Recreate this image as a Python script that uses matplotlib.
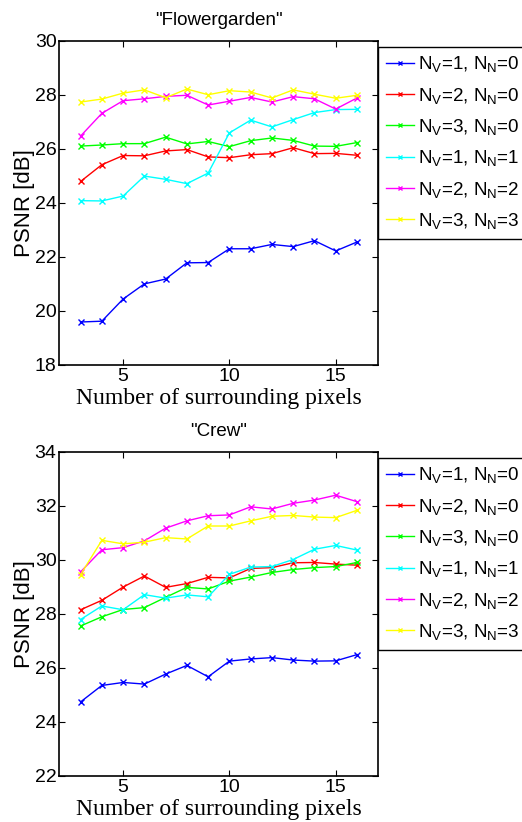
import matplotlib
matplotlib.use('Agg')
import matplotlib.pyplot as plt

plt.rcParams['font.family'] = 'Liberation Sans'
plt.rcParams['mathtext.fontset'] = 'custom'
plt.rcParams['mathtext.rm'] = 'Liberation Sans'
plt.rcParams['mathtext.it'] = 'Liberation Sans:italic'
plt.rcParams['mathtext.default'] = 'rm'

# surrounding pixels (x axis)
pixels = [3, 4, 5, 6, 7, 8, 9, 10, 11, 12, 13, 14, 15, 16]

labels = ['N$_V$=1, N$_N$=0', 'N$_V$=2, N$_N$=0', 'N$_V$=3, N$_N$=0',
          'N$_V$=1, N$_N$=1', 'N$_V$=2, N$_N$=2', 'N$_V$=3, N$_N$=3']
colors = ['#0000ff', '#ff0000', '#00ff00', '#00ffff', '#ff00ff', '#ffff00']

# "Flowergarden" PSNR [dB]
fg_v1n0 = [19.59, 19.62, 20.44, 21.00, 21.18, 21.78, 21.79, 22.30, 22.30, 22.46, 22.38, 22.60, 22.22, 22.55]
fg_v2n0 = [24.79, 25.41, 25.75, 25.74, 25.92, 25.97, 25.70, 25.67, 25.78, 25.82, 26.04, 25.82, 25.83, 25.76]
fg_v3n0 = [26.10, 26.14, 26.19, 26.19, 26.43, 26.18, 26.27, 26.08, 26.30, 26.40, 26.31, 26.10, 26.09, 26.23]
fg_v1n1 = [24.08, 24.07, 24.25, 24.99, 24.87, 24.71, 25.10, 26.59, 27.06, 26.81, 27.08, 27.34, 27.45, 27.46]
fg_v2n2 = [26.47, 27.31, 27.78, 27.85, 27.94, 27.98, 27.62, 27.76, 27.90, 27.73, 27.93, 27.85, 27.47, 27.88]
fg_v3n3 = [27.73, 27.84, 28.06, 28.18, 27.89, 28.21, 28.00, 28.15, 28.10, 27.88, 28.18, 28.02, 27.87, 27.98]

# "Crew" PSNR [dB]
cr_v1n0 = [24.74, 25.35, 25.46, 25.40, 25.77, 26.09, 25.67, 26.25, 26.33, 26.38, 26.29, 26.25, 26.26, 26.49]
cr_v2n0 = [28.15, 28.50, 28.99, 29.40, 28.98, 29.12, 29.35, 29.33, 29.68, 29.71, 29.89, 29.90, 29.84, 29.80]
cr_v3n0 = [27.55, 27.89, 28.16, 28.23, 28.61, 28.98, 28.92, 29.21, 29.36, 29.53, 29.64, 29.71, 29.75, 29.90]
cr_v1n1 = [27.79, 28.29, 28.15, 28.71, 28.58, 28.70, 28.63, 29.46, 29.73, 29.75, 30.01, 30.39, 30.53, 30.36]
cr_v2n2 = [29.55, 30.37, 30.45, 30.70, 31.17, 31.44, 31.63, 31.66, 31.96, 31.88, 32.09, 32.21, 32.39, 32.15]
cr_v3n3 = [29.45, 30.72, 30.59, 30.65, 30.82, 30.77, 31.25, 31.25, 31.44, 31.61, 31.64, 31.58, 31.56, 31.83]

panels = [
    ('"Flowergarden"', [fg_v1n0, fg_v2n0, fg_v3n0, fg_v1n1, fg_v2n2, fg_v3n3], (18, 30), 0.556),
    ('"Crew"', [cr_v1n0, cr_v2n0, cr_v3n0, cr_v1n1, cr_v2n2, cr_v3n3], (22, 34), 0.056),
]

fig = plt.figure(figsize=(5.22, 8.22), dpi=100)
fig.patch.set_facecolor('white')

for title, series, ylim, bottom in panels:
    ax = fig.add_axes([0.1136, bottom, 0.611, 0.3945])
    for vals, c, lab in zip(series, colors, labels):
        ax.plot(pixels, vals, color=c, marker='x', markersize=4,
                markeredgewidth=1, linewidth=1, label=lab)
    ax.set_xlim(2, 17)
    ax.set_ylim(*ylim)
    ax.set_xticks([5, 10, 15])
    ax.set_yticks(range(ylim[0], ylim[1] + 1, 2))
    ax.tick_params(direction='in', top=True, right=True, length=4,
                   width=0.8, labelsize=14, pad=2)
    for sp in ax.spines.values():
        sp.set_linewidth(1.2)
    ax.set_title(title, fontsize=13.5, pad=11)
    ax.set_ylabel('PSNR [dB]', fontsize=16, labelpad=0)
    ax.set_xlabel('Number of surrounding pixels', family='Liberation Serif',
                  fontsize=17, labelpad=2)
    # legend runs off the right edge like the original
    leg = ax.legend(loc='upper left', bbox_to_anchor=(1.0, 0.981),
                    borderaxespad=0, fancybox=False, edgecolor='black',
                    fontsize=13.6, handlelength=1.5, handletextpad=0.2,
                    labelspacing=0.6, borderpad=0.4, framealpha=1,
                    markerscale=0.8)
    leg.get_frame().set_linewidth(1.0)

fig.savefig('out.png', dpi=100, facecolor='white')
